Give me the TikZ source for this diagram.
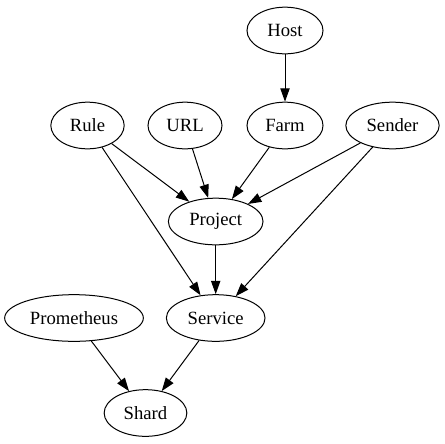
\documentclass[tikz,border=0pt]{standalone}
\usepackage{fontspec}
\setmainfont{Liberation Serif}
\usetikzlibrary{shapes.geometric,arrows.meta}
\begin{document}
\begin{tikzpicture}[x=0.75pt,y=-0.75pt,
  nd/.style={draw,ellipse,line width=0.75pt,inner sep=0pt,minimum height=35pt,font=\fontsize{14}{16}\selectfont},
  edge/.style={draw,line width=0.75pt,-{Triangle[length=10pt,width=7pt]}}]
\useasboundingbox (0,0) rectangle (445,443);
\node[nd,minimum width=57pt] (host) at (285,30.5) {Host};
\node[nd,minimum width=55pt] (rule) at (87.5,125.5) {Rule};
\node[nd,minimum width=55.5pt] (url) at (185,125.5) {URL};
\node[nd,minimum width=57pt] (farm) at (285,125.5) {Farm};
\node[nd,minimum width=70pt] (sender) at (392.5,125.5) {Sender};
\node[nd,minimum width=71pt] (project) at (215.7,221.5) {Project};
\node[nd,minimum width=104pt] (prom) at (74,318) {Prometheus};
\node[nd,minimum width=74pt] (service) at (215.7,318) {Service};
\node[nd,minimum width=62pt] (shard) at (145.5,413) {Shard};
\draw[edge] (host) -- (farm);
\draw[edge] (rule) -- (project);
\draw[edge] (url) -- (project);
\draw[edge] (farm) -- (project);
\draw[edge] (sender) -- (project);
\draw[edge] (rule) -- (service);
\draw[edge] (sender) -- (service);
\draw[edge] (project) -- (service);
\draw[edge] (prom) -- (shard);
\draw[edge] (service) -- (shard);
\end{tikzpicture}
\end{document}
